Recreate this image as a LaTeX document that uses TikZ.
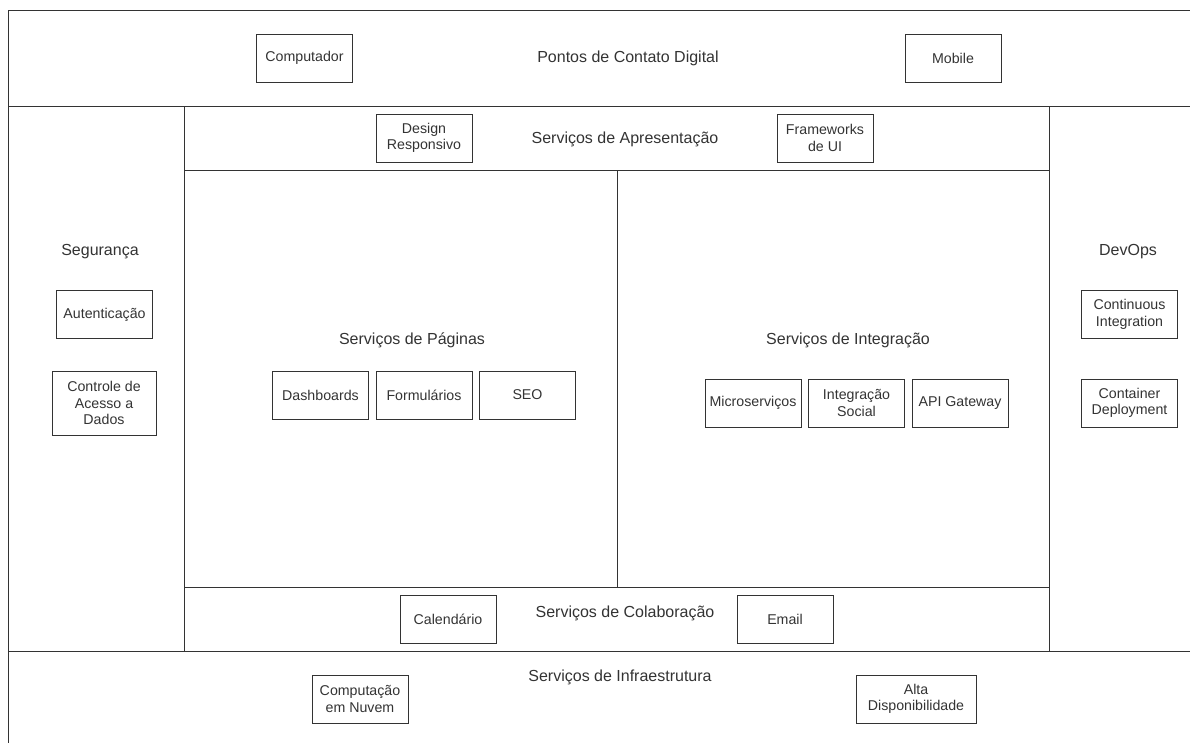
\documentclass[tikz,border=0pt]{standalone}
\usepackage{fontspec}
\setmainfont{Liberation Sans}
\usepackage{tikz}
\usetikzlibrary{positioning}
\definecolor{ink}{HTML}{333333}

\begin{document}
\begin{tikzpicture}[
        x=1pt, y=-1pt,
        line/.style  = {draw=ink, line width=1pt},
        box/.style   = {rectangle, draw=ink, line width=1pt, text=ink, align=center,
                        minimum width=96pt, minimum height=48pt, inner sep=2pt,
                        font=\fontsize{14.2}{16.5}\selectfont},
        layer/.style = {text=ink, font=\fontsize{16}{18}\selectfont},
        node distance = 6.5pt
    ]
        \useasboundingbox (0,0) rectangle (1190,742);
        \clip (0,0) rectangle (1190,742);
        % layers
        \draw[line] (8,10) rectangle (1200,760);
        \draw[line] (8,106) -- (1190,106);
        \draw[line] (8,651) -- (1190,651);
        \draw[line] (184,106) rectangle (1049,651);
        \draw[line] (184,170) -- (1049,170);
        \draw[line] (184,587) -- (1049,587);
        \draw[line] (617,170) -- (617,587);

        \node[layer] (dig)   at (628,58)   {Pontos de Contato Digital};
        \node[layer] (apr)   at (625,139)  {Serviços de Apresentação};
        \node[layer] (seg)   at (100,252)  {Segurança};
        \node[layer] (dev)   at (1128,252) {DevOps};
        \node[layer] (pag)   at (412,340)  {Serviços de Páginas};
        \node[layer] (int)   at (848,340)  {Serviços de Integração};
        \node[layer] (col)   at (625,613)  {Serviços de Colaboração};
        \node[layer] (infra) at (620,677)  {Serviços de Infraestrutura};

        % digital
        \node[box] (pc)  at (304.5,58) {Computador};
        \node[box] (mob) at (953,58)   {Mobile};
        % presentation
        \node[box] (resp) at (424,138) {Design\\Responsivo};
        \node[box] (ui)   at (825,138) {Frameworks\\de UI};
        % security
        \node[box] (auth) at (104.5,314.5) {Autenticação};
        \node[box, minimum width=104pt, minimum height=64pt] (acl) at (104,403)
            {Controle de\\Acesso a\\Dados};
        % devops
        \node[box] (ci)   at (1129.5,314.5) {Continuous\\Integration};
        \node[box] (cd)   at (1129.5,403)   {Container\\Deployment};
        % pages
        \node[box]                   (dash) at (320.5,395) {Dashboards};
        \node[box, right=of dash]    (form) {Formulários};
        \node[box, right=of form]    (seo)  {SEO};
        % integration
        \node[box]                   (micro) at (753,403) {Microserviços};
        \node[box, right=of micro]   (soc)   {Integração\\Social};
        \node[box, right=of soc]     (api)   {API Gateway};
        % collaboration
        \node[box] (cal)  at (448,619) {Calendário};
        \node[box] (mail) at (785,619) {Email};
        % infrastructure
        \node[box] (cloud) at (360,699) {Computação\\em Nuvem};
        \node[box, minimum width=120pt] (ha) at (916,699) {Alta\\Disponibilidade};
    \end{tikzpicture}
\end{document}
